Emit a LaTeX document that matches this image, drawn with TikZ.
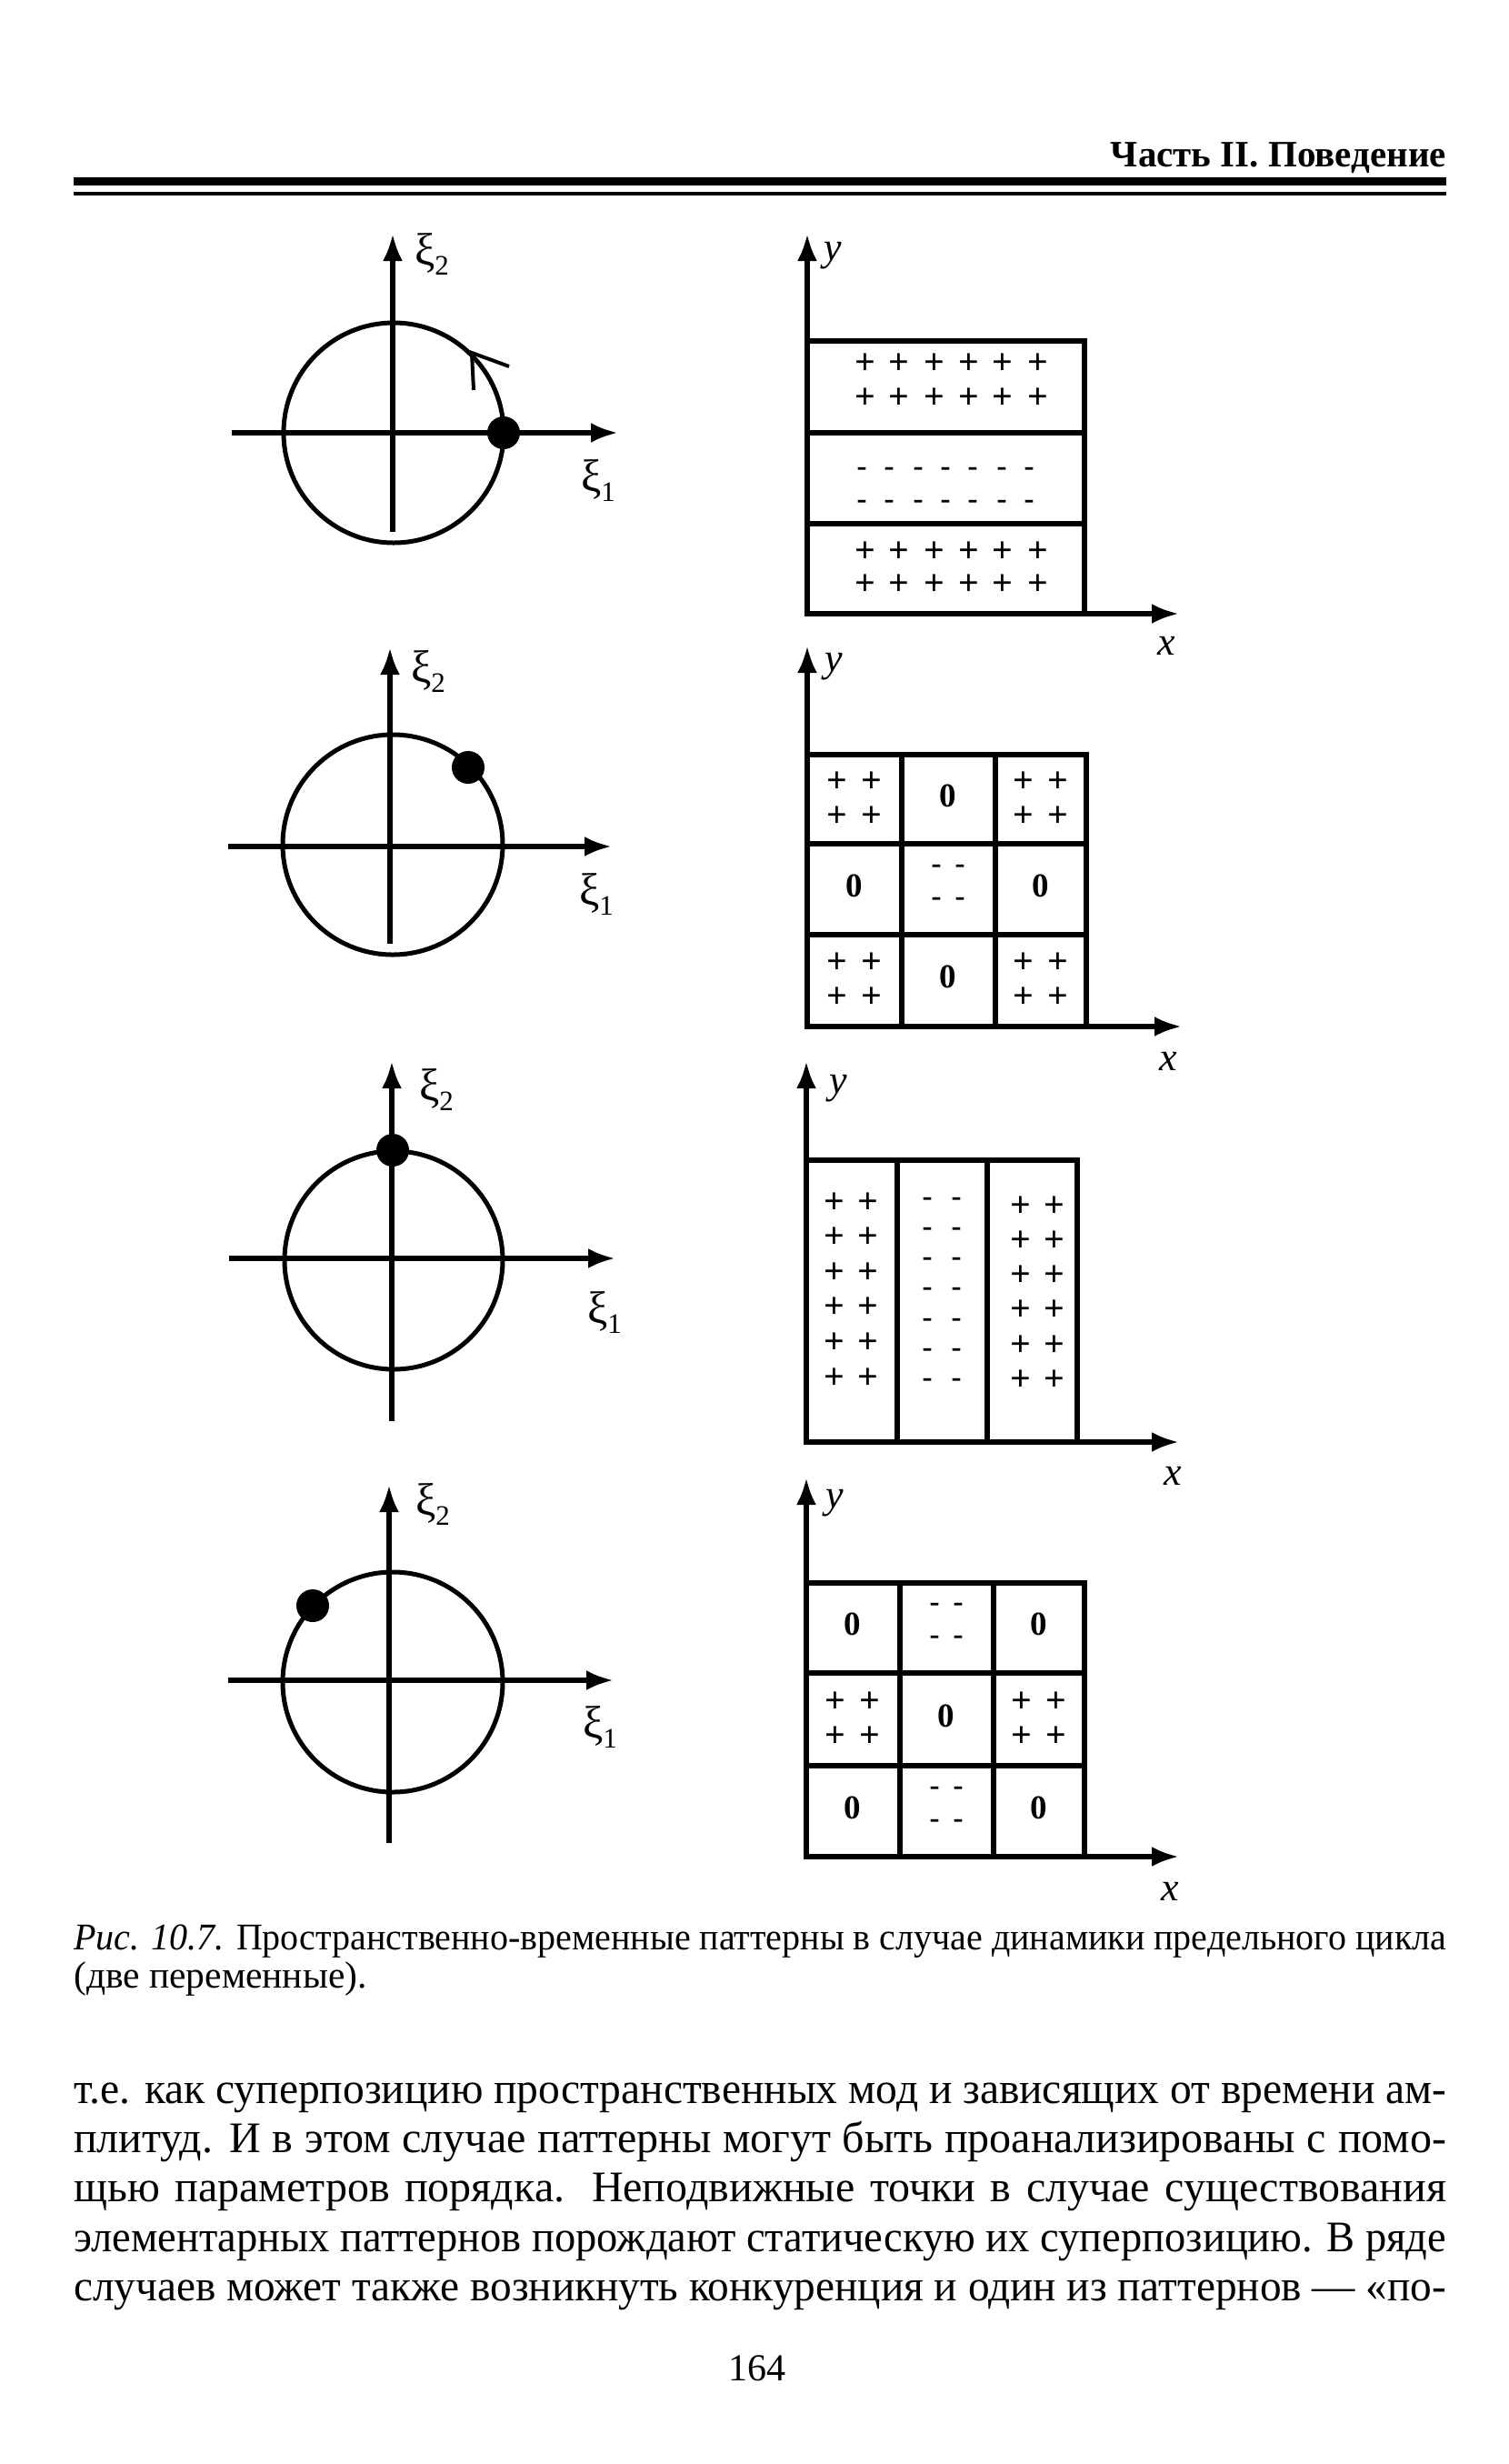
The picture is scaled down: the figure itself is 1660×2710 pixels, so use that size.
\documentclass[tikz,border=0pt]{standalone}
\usepackage{fontspec}
\usepackage{graphicx}
\setmainfont{Liberation Serif}
\usetikzlibrary{arrows.meta}
\newcommand{\fsz}[1]{\fontsize{#1}{#1}\selectfont}
\newsavebox\linebox
\newcommand{\fitline}[1]{\sbox\linebox{#1}\ifdim\wd\linebox>1510pt\resizebox{1510pt}{\height}{\usebox\linebox}\else\makebox[1510pt][s]{#1}\fi}
\newcommand{\cellpp}[3]{%
 \node[plusm] (#3a) at ({#1-19},{#2-19}) {+};
 \node[plusm] (#3b) at ({#1+19},{#2-19}) {+};
 \node[plusm] (#3c) at ({#1-19},{#2+19}) {+};
 \node[plusm] (#3d) at ({#1+19},{#2+19}) {+};}
\newcommand{\cellmm}[3]{%
 \node[minusm] (#3a) at ({#1-13},{#2-24}) {-};
 \node[minusm] (#3b) at ({#1+13},{#2-24}) {-};
 \node[minusm] (#3c) at ({#1-13},{#2+12}) {-};
 \node[minusm] (#3d) at ({#1+13},{#2+12}) {-};}
\newcommand{\cellzz}[3]{\node[zerom] (#3) at (#1,{#2-4}) {0};}
\newcommand{\xilabel}[1]{ξ\raisebox{-0.22em}{\fsz{31}#1}}
\begin{document}
\begin{tikzpicture}[x=1pt,y=-1pt,
  axline/.style={line width=5.5pt,-{Latex[length=30pt,width=22pt]}},
  circline/.style={line width=5pt},
  gridline/.style={line width=5.5pt},
  dotm/.style={circle,fill=black,inner sep=0pt,minimum size=36pt},
  plusm/.style={inner sep=0pt,font=\fsz{40}\bfseries},
  minusm/.style={inner sep=0pt,font=\fsz{33}\bfseries,yshift=-2pt},
  zerom/.style={inner sep=0pt,font=\fsz{37}\bfseries},
  xilab/.style={inner sep=0pt,anchor=base west,font=\fsz{50}},
  xylab/.style={inner sep=0pt,font=\fsz{44}\itshape},
  bodytext/.style={inner sep=0pt,anchor=base west,font=\fsz{48}},
  captext/.style={inner sep=0pt,anchor=base west,font=\fsz{41.5}},
]
\useasboundingbox (0,0) rectangle (1660,2710);
\fill[white] (0,0) rectangle (1660,2710);

% header
\node[inner sep=0pt,anchor=base east,font=\fsz{41}\bfseries] (hdr) at (1591,183) {Часть II. Поведение};
\coordinate (rl1) at (81,199); \coordinate (rr1) at (1591,199);
\coordinate (rl2) at (81,213); \coordinate (rr2) at (1591,213);
\draw[line width=9pt] (rl1) -- (rr1);
\draw[line width=3.5pt] (rl2) -- (rr2);

% ---------- left panels ----------
% P1
\coordinate (v1b) at (432,585); \coordinate (v1t) at (432,257);
\coordinate (h1l) at (255,476); \coordinate (h1r) at (680,476);
\coordinate (c1) at (433,476);
\draw[circline] (c1) circle[radius=121];
\draw[axline] (v1b) -- (v1t);
\draw[axline] (h1l) -- (h1r);
\node[dotm] (d1) at (554,476) {};
\coordinate (k1) at (519,388);
\draw[line width=4pt] (k1) ++(41,15) -- (k1) -- ++(2,41);
\node[xilab] (x2a) at (456,291) {\xilabel{2}};
\node[xilab] (x1a) at (639,540) {\xilabel{1}};

% P2
\coordinate (v2b) at (429,1038); \coordinate (v2t) at (429,712);
\coordinate (h2l) at (251,931); \coordinate (h2r) at (673,931);
\coordinate (c2) at (432,929);
\draw[circline] (c2) circle[radius=121];
\draw[axline] (v2b) -- (v2t);
\draw[axline] (h2l) -- (h2r);
\node[dotm] (d2) at (515,844) {};
\node[xilab] (x2b) at (452,750) {\xilabel{2}};
\node[xilab] (x1b) at (637,995) {\xilabel{1}};

% P3
\coordinate (v3b) at (431,1563); \coordinate (v3t) at (431,1167);
\coordinate (h3l) at (252,1384); \coordinate (h3r) at (677,1384);
\coordinate (c3) at (433,1386);
\draw[circline] (c3) circle[radius=120];
\draw[axline] (v3b) -- (v3t);
\draw[axline] (h3l) -- (h3r);
\node[dotm] (d3) at (432,1265) {};
\node[xilab] (x2c) at (461,1210) {\xilabel{2}};
\node[xilab] (x1c) at (646,1455) {\xilabel{1}};

% P4
\coordinate (v4b) at (428,2027); \coordinate (v4t) at (428,1633);
\coordinate (h4l) at (251,1848); \coordinate (h4r) at (675,1848);
\coordinate (c4) at (432,1850);
\draw[circline] (c4) circle[radius=121];
\draw[axline] (v4b) -- (v4t);
\draw[axline] (h4l) -- (h4r);
\node[dotm] (d4) at (344,1766) {};
\node[xilab] (x2d) at (457,1666) {\xilabel{2}};
\node[xilab] (x1d) at (641,1911) {\xilabel{1}};

% ---------- right panels ----------
% R1
\coordinate (r1o) at (888,675); \coordinate (r1t) at (888,257); \coordinate (r1x) at (1297,675);
\draw[gridline] (888,375) rectangle (1193,675);
\draw[gridline] (888,476) -- (1193,476);
\draw[gridline] (888,576) -- (1193,576);
\draw[axline] (r1o) -- (r1t);
\draw[axline] (r1o) -- (r1x);
\node[xylab] (ry1) at (916,281) {y};
\node[xylab] (rx1) at (1283,710) {x};
\foreach \x [count=\i] in {952,989,1028,1066,1103,1142}
  \foreach \y [count=\j] in {400,438,607,643}
    \node[plusm] (r1p\i\j) at (\x,\y) {+};
\foreach \x [count=\i] in {948,978,1010,1040,1070,1102,1132}
  \foreach \y [count=\j] in {517,553}
    \node[minusm] (r1m\i\j) at (\x,\y) {-};

% R2
\coordinate (r2o) at (888,1129); \coordinate (r2t) at (888,710); \coordinate (r2x) at (1300,1129);
\draw[gridline] (888,830) rectangle (1195,1129);
\draw[gridline] (992,830) -- (992,1129);
\draw[gridline] (1095,830) -- (1095,1129);
\draw[gridline] (888,928) -- (1195,928);
\draw[gridline] (888,1028) -- (1195,1028);
\draw[axline] (r2o) -- (r2t);
\draw[axline] (r2o) -- (r2x);
\node[xylab] (ry2) at (917,733) {y};
\node[xylab] (rx2) at (1285,1167) {x};
\cellpp{940}{879}{r2a}
\cellzz{1043}{879}{r2b}
\cellpp{1145}{879}{r2c}
\cellzz{940}{978}{r2d}
\cellmm{1043}{978}{r2e}
\cellzz{1145}{978}{r2f}
\cellpp{940}{1078}{r2g}
\cellzz{1043}{1078}{r2h}
\cellpp{1145}{1078}{r2i}

% R3
\coordinate (r3o) at (887,1586); \coordinate (r3t) at (887,1167); \coordinate (r3x) at (1297,1586);
\draw[gridline] (887,1276) rectangle (1185,1586);
\draw[gridline] (987,1276) -- (987,1586);
\draw[gridline] (1086,1276) -- (1086,1586);
\draw[axline] (r3o) -- (r3t);
\draw[axline] (r3o) -- (r3x);
\node[xylab] (ry3) at (922,1197) {y};
\node[xylab] (rx3) at (1290,1623) {x};
\foreach \x [count=\i] in {918,955}
  \foreach \y [count=\j] in {1323,1361,1400,1438,1477,1516}
    \node[plusm] (r3p\i\j) at (\x,\y) {+};
\foreach \x [count=\i] in {1020,1052}
  \foreach \y [count=\j] in {1320,1353,1386,1419,1453,1486,1519}
    \node[minusm] (r3m\i\j) at (\x,\y) {-};
\foreach \x [count=\i] in {1123,1160}
  \foreach \y [count=\j] in {1327,1365,1403,1441,1480,1518}
    \node[plusm] (r3q\i\j) at (\x,\y) {+};

% R4
\coordinate (r4o) at (887,2042); \coordinate (r4t) at (887,1625); \coordinate (r4x) at (1297,2042);
\draw[gridline] (887,1741) rectangle (1193,2042);
\draw[gridline] (990,1741) -- (990,2042);
\draw[gridline] (1093,1741) -- (1093,2042);
\draw[gridline] (887,1840) -- (1193,1840);
\draw[gridline] (887,1942) -- (1193,1942);
\draw[axline] (r4o) -- (r4t);
\draw[axline] (r4o) -- (r4x);
\node[xylab] (ry4) at (918,1653) {y};
\node[xylab] (rx4) at (1287,2080) {x};
\cellzz{938}{1790}{r4a}
\cellmm{1041}{1790}{r4b}
\cellzz{1143}{1790}{r4c}
\cellpp{938}{1891}{r4d}
\cellzz{1041}{1891}{r4e}
\cellpp{1143}{1891}{r4f}
\cellzz{938}{1992}{r4g}
\cellmm{1041}{1992}{r4h}
\cellzz{1143}{1992}{r4i}

% caption
\node[captext] (cap1) at (81,2144) {\fitline{\textit{Рис. 10.7.} Пространственно-временные паттерны в случае динамики предельного цикла}};
\node[captext] (cap2) at (81,2186) {(две переменные).};

% body text
\node[bodytext] (bt1) at (81,2313) {\fitline{т.е. как суперпозицию пространственных мод и зависящих от времени ам-}};
\node[bodytext] (bt2) at (81,2367) {\fitline{плитуд. И в этом случае паттерны могут быть проанализированы с помо-}};
\node[bodytext] (bt3) at (81,2421) {\fitline{щью параметров порядка. Неподвижные точки в случае существования}};
\node[bodytext] (bt4) at (81,2476) {\fitline{элементарных паттернов порождают статическую их суперпозицию. В ряде}};
\node[bodytext] (bt5) at (81,2530) {\fitline{случаев может также возникнуть конкуренция и один из паттернов — «по-}};

% page number
\node[inner sep=0pt,anchor=base,font=\fsz{42}] (pg) at (833,2618) {164};
\end{tikzpicture}
\end{document}
